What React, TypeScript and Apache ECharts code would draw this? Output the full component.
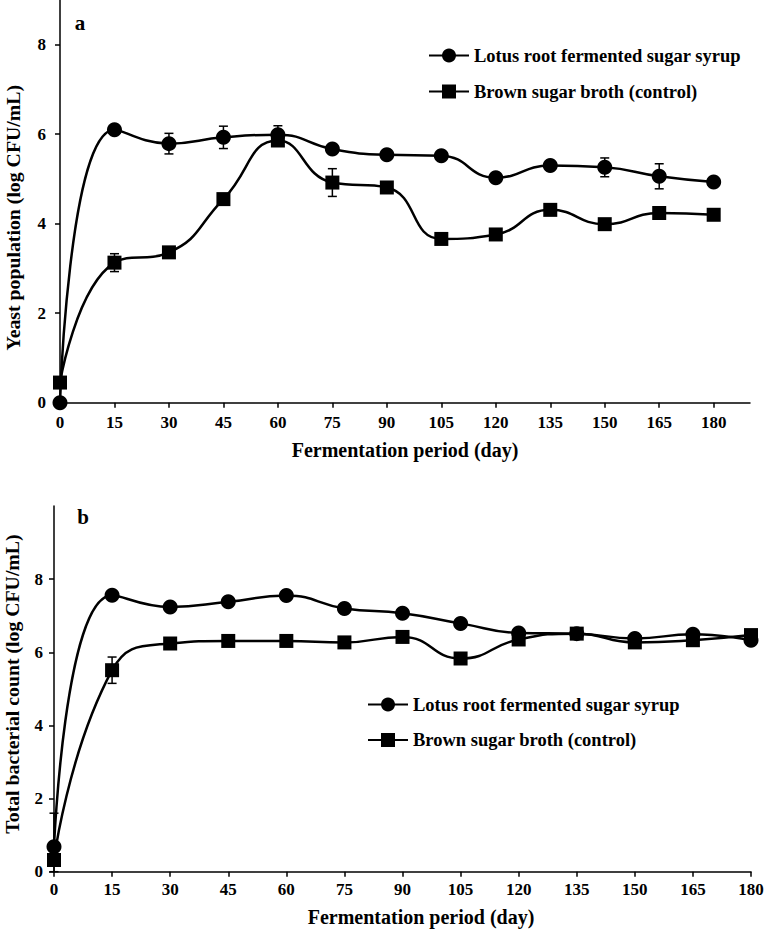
import React, { useEffect, useRef } from "react";
import * as echarts from "echarts";

const days = [0, 15, 30, 45, 60, 75, 90, 105, 120, 135, 150, 165, 180];
const yTicks = [0, 2, 4, 6, 8];
const seriesNames = ["Lotus root fermented sugar syrup", "Brown sugar broth (control)"];
const panelLabels = ["a", "b"];
const xTitle = "Fermentation period (day)";
const yTitles = ["Yeast population (log CFU/mL)", "Total bacterial count (log CFU/mL)"];

// Panel a: yeast population
const yeastLotus = [0, 6.1, 5.79, 5.93, 5.99, 5.67, 5.54, 5.52, 5.03, 5.3, 5.26, 5.06, 4.93];
const yeastLotusErr = [0, 0.05, 0.23, 0.25, 0.2, 0.06, 0.05, 0.06, 0.05, 0.06, 0.21, 0.28, 0.05];
const yeastBrown = [0.45, 3.13, 3.36, 4.55, 5.86, 4.92, 4.81, 3.66, 3.76, 4.31, 3.99, 4.24, 4.2];
const yeastBrownErr = [0.05, 0.2, 0.06, 0.06, 0.08, 0.31, 0.06, 0.12, 0.06, 0.06, 0.06, 0.06, 0.06];

// Panel b: total bacterial count
const bactLotus = [0.68, 7.56, 7.24, 7.38, 7.55, 7.2, 7.07, 6.79, 6.53, 6.51, 6.38, 6.49, 6.33];
const bactLotusErr = [0.92, 0.06, 0.06, 0.06, 0.06, 0.06, 0.06, 0.06, 0.06, 0.06, 0.06, 0.06, 0.06];
const bactBrown = [0.32, 5.51, 6.24, 6.31, 6.31, 6.27, 6.42, 5.83, 6.35, 6.51, 6.27, 6.33, 6.47];
const bactBrownErr = [0.05, 0.36, 0.06, 0.06, 0.06, 0.06, 0.06, 0.06, 0.06, 0.06, 0.06, 0.06, 0.06];

const FONT = "'Liberation Serif', 'Times New Roman', serif";

function lineSeries(name: string, vals: number[], symbol: string, idx: number) {
  return {
    type: "line",
    name,
    xAxisIndex: idx,
    yAxisIndex: idx,
    data: days.map((d, i) => [d, vals[i]]),
    symbol,
    symbolSize: symbol === "circle" ? 15 : 14,
    smooth: 0.5,
    clip: false,
    lineStyle: { color: "#000", width: 2.5 },
    itemStyle: { color: "#000", borderWidth: 0 },
    z: 3,
  };
}

function errSeries(vals: number[], errs: number[], idx: number) {
  return {
    type: "custom",
    xAxisIndex: idx,
    yAxisIndex: idx,
    data: days.map((d, i) => [d, vals[i], errs[i]]),
    encode: { x: 0, y: 1 },
    z: 2,
    silent: true,
    renderItem: (params: any, api: any) => {
      const x = api.value(0);
      const y = api.value(1);
      const e = api.value(2);
      if (!e) return null;
      const top = api.coord([x, y + e]);
      const bot = api.coord([x, Math.max(0, y - e)]);
      const cap = 4.5;
      const st = { stroke: "#000", lineWidth: 1.5 };
      return {
        type: "group",
        children: [
          { type: "line", shape: { x1: top[0], y1: top[1], x2: bot[0], y2: bot[1] }, style: st },
          { type: "line", shape: { x1: top[0] - cap, y1: top[1], x2: top[0] + cap, y2: top[1] }, style: st },
          { type: "line", shape: { x1: bot[0] - cap, y1: bot[1], x2: bot[0] + cap, y2: bot[1] }, style: st },
        ],
      };
    },
  };
}

function xAxis(idx: number, max: number, margin: number) {
  return {
    type: "value",
    gridIndex: idx,
    min: 0,
    max,
    axisLine: { show: true, lineStyle: { color: "#000", width: 1.5 } },
    axisTick: { show: true, length: 5, customValues: days, lineStyle: { color: "#000", width: 1.5 } },
    axisLabel: { customValues: days, color: "#000", fontFamily: FONT, fontWeight: "bold", fontSize: 17, margin },
    splitLine: { show: false },
  };
}

function yAxis(idx: number, max: number, margin: number) {
  return {
    type: "value",
    gridIndex: idx,
    min: 0,
    max,
    axisLine: { show: true, lineStyle: { color: "#000", width: 1.5 } },
    axisTick: { show: true, length: 5, customValues: yTicks, lineStyle: { color: "#000", width: 1.5 } },
    axisLabel: { customValues: yTicks, color: "#000", fontFamily: FONT, fontWeight: "bold", fontSize: 17, margin },
    splitLine: { show: false },
  };
}

const legendText = { color: "#000", fontFamily: FONT, fontWeight: "bold", fontSize: 18.5 };

const titleStyle = (size: number) => ({
  fill: "#000",
  font: `bold ${size}px ${FONT}`,
  align: "center",
  verticalAlign: "middle",
});

export default function App() {
  const ref = useRef<HTMLDivElement>(null);
  useEffect(() => {
    document.body.style.margin = "0";
    const chart = echarts.init(ref.current!, null, { renderer: "svg" });
    chart.setOption({
      animation: false,
      backgroundColor: "#fff",
      grid: [
        { left: 60, top: 0, width: 690, height: 402.7 },
        { left: 54, top: 506, width: 697, height: 365.7 },
      ],
      xAxis: [xAxis(0, 190, 11), xAxis(1, 180, 9)],
      yAxis: [yAxis(0, 9, 14), yAxis(1, 10, 11)],
      legend: [
        {
          orient: "vertical",
          left: 423,
          top: 41,
          itemWidth: 40,
          itemHeight: 17.5,
          itemGap: 17,
          data: seriesNames,
          textStyle: legendText,
          selectedMode: false,
        },
        {
          orient: "vertical",
          left: 362,
          top: 690,
          itemWidth: 40,
          itemHeight: 17.5,
          itemGap: 16.5,
          data: seriesNames,
          textStyle: legendText,
          selectedMode: false,
        },
      ],
      graphic: [
        { type: "text", x: 80, y: 22.7, style: { text: panelLabels[0], ...titleStyle(21) } },
        { type: "text", x: 83, y: 516.7, style: { text: panelLabels[1], ...titleStyle(21) } },
        { type: "text", x: 405, y: 450, style: { text: xTitle, ...titleStyle(20) } },
        { type: "text", x: 421, y: 916.7, style: { text: xTitle, ...titleStyle(20) } },
        { type: "text", x: 13.3, y: 217.7, rotation: Math.PI / 2, style: { text: yTitles[0], ...titleStyle(19.8) } },
        { type: "text", x: 11.7, y: 684, rotation: Math.PI / 2, style: { text: yTitles[1], ...titleStyle(19.8) } },
      ],
      series: [
        errSeries(yeastLotus, yeastLotusErr, 0),
        errSeries(yeastBrown, yeastBrownErr, 0),
        lineSeries(seriesNames[0], yeastLotus, "circle", 0),
        lineSeries(seriesNames[1], yeastBrown, "rect", 0),
        errSeries(bactLotus, bactLotusErr, 1),
        errSeries(bactBrown, bactBrownErr, 1),
        lineSeries(seriesNames[0], bactLotus, "circle", 1),
        lineSeries(seriesNames[1], bactBrown, "rect", 1),
      ],
    });
    return () => chart.dispose();
  }, []);
  return <div ref={ref} style={{ width: 767, height: 929 }} />;
}
